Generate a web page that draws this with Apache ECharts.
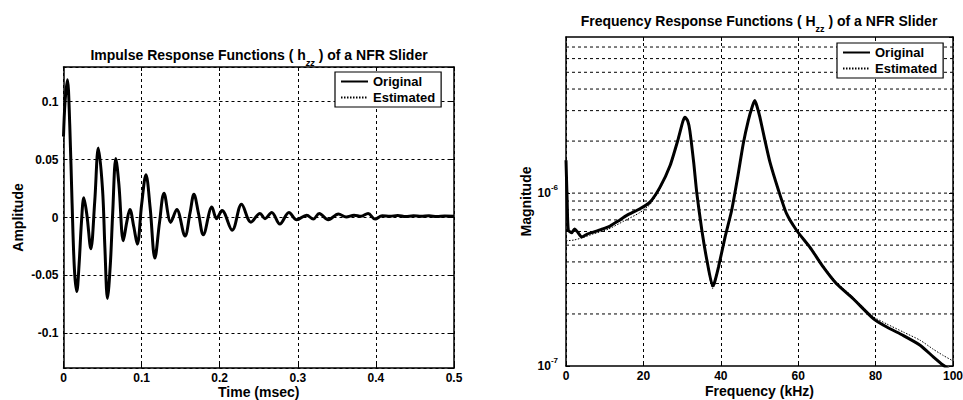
<!DOCTYPE html>
<html><head><meta charset="utf-8">
<script src="https://cdn.jsdelivr.net/npm/echarts@6/dist/echarts.min.js"></script>
<style>html,body{margin:0;padding:0;background:#fff}#c{width:963px;height:400px}</style>
</head><body><div id="c"></div>
<script>
const FONT = '"Liberation Sans", Arial, Helvetica, sans-serif';

// ---- Left: impulse response (time in msec) ----
const timeMs = [0,0.002,0.005,0.008,0.011,0.014,0.017,0.020,0.023,0.026,0.030,0.035,0.040,0.0446,0.050,0.053,0.0563,0.060,0.063,0.067,0.071,0.0766,0.081,0.085,0.090,0.0945,0.100,0.1056,0.111,0.117,0.123,0.1287,0.1373,0.145,0.1556,0.162,0.167,0.173,0.179,0.190,0.196,0.203,0.216,0.228,0.240,0.2516,0.258,0.2666,0.277,0.2887,0.2986,0.3114,0.3198,0.3275,0.339,0.352,0.362,0.372,0.381,0.390,0.399,0.408,0.418,0.428,0.438,0.448,0.458,0.468,0.478,0.488,0.500];
const impulseOriginal = [0.070,0.100,0.119,0.080,0.012,-0.045,-0.064,-0.040,-0.004,0.017,0.002,-0.027,0.014,0.060,0.024,-0.026,-0.070,-0.040,0.004,0.051,0.028,-0.020,-0.004,0.007,-0.008,-0.023,0.011,0.037,0.008,-0.035,-0.004,0.021,-0.004,0.007,-0.016,0.004,0.020,0.003,-0.015,0.009,-0.001,0.006,-0.011,0.0115,-0.004,0.0035,-0.001,0.0043,-0.0057,0.0043,-0.002,0.002,-0.0014,0.0035,-0.002,0.003,0.0005,0.002,0.001,0.0035,-0.0014,0.0015,0.001,0.0018,0.0008,0.0015,0.001,0.0015,0.0008,0.0012,0.001];
const impulseEstimated = [0.060,0.098,0.117,0.079,0.011,-0.046,-0.063,-0.039,-0.005,0.016,0.001,-0.026,0.013,0.059,0.023,-0.027,-0.069,-0.039,0.003,0.050,0.027,-0.019,-0.005,0.006,-0.009,-0.022,0.010,0.036,0.007,-0.034,-0.005,0.020,-0.005,0.006,-0.015,0.003,0.019,0.002,-0.014,0.008,-0.002,0.005,-0.010,0.011,-0.004,0.003,-0.001,0.004,-0.005,0.004,-0.002,0.0015,-0.001,0.003,-0.0015,0.0025,0.0005,0.0015,0.0005,0.003,-0.001,0.001,0.0005,0.001,0.0005,0.001,0.0005,0.0008,0.0005,0.0006,0.0005];
const timeTicks = {min: 0, max: 0.5, step: 0.1};
const amplitudeRange = {min: -0.13, max: 0.13};

// ---- Right: frequency response (kHz) ----
const freqOriginal = [0,0.3,0.6,1.5,2.2,3,4.05,5.5,7.06,9,11.4,13.5,15.7,19.1,21.7,24.3,26.9,29.0,30.2,30.75,31.5,32.0,33.0,33.8,35.1,36.4,37.9,38.3,39.4,41.1,42.8,44.5,45.8,47.1,48.2,48.8,49.4,50.1,51.4,52.7,54.9,57.0,59.6,63.0,66.5,69.9,74.2,79.4,82.9,87.2,91.5,94.9,97.5,100];
const magOriginal = [1.55e-6,9e-7,6.1e-7,5.9e-7,6.2e-7,5.95e-7,5.57e-7,5.8e-7,5.95e-7,6.15e-7,6.45e-7,6.9e-7,7.43e-7,8.12e-7,8.87e-7,1.083e-6,1.445e-6,2.06e-6,2.6e-6,2.75e-6,2.6e-6,2.3e-6,1.5e-6,1.0e-6,6.1e-7,4.1e-7,2.9e-7,3.0e-7,3.73e-7,5.57e-7,7.94e-7,1.29e-6,1.93e-6,2.63e-6,3.2e-6,3.43e-6,3.15e-6,2.75e-6,2.02e-6,1.51e-6,1.04e-6,7.6e-7,6.08e-7,4.87e-7,3.73e-7,2.99e-7,2.45e-7,1.88e-7,1.68e-7,1.5e-7,1.32e-7,1.13e-7,1.01e-7,0.92e-7];
const freqEstimated = [0,2,4,7,11,15,19,21.7,24.3,26.9,29.0,30.2,30.75,31.5,32.0,33.0,33.8,35.1,36.4,37.9,38.3,39.4,41.1,42.8,44.5,45.8,47.1,48.2,48.8,49.4,50.1,51.4,52.7,54.9,57.0,59.6,63.0,66.5,69.9,74.2,79.4,82.9,87.2,91.5,94.9,97.5,100];
const magEstimated = [5.3e-7,5.35e-7,5.5e-7,5.8e-7,6.2e-7,6.9e-7,7.7e-7,8.6e-7,1.06e-6,1.43e-6,2.05e-6,2.58e-6,2.73e-6,2.58e-6,2.28e-6,1.48e-6,9.9e-7,6.0e-7,4.0e-7,2.8e-7,2.9e-7,3.7e-7,5.5e-7,7.9e-7,1.28e-6,1.92e-6,2.62e-6,3.18e-6,3.41e-6,3.13e-6,2.74e-6,2.02e-6,1.52e-6,1.05e-6,7.7e-7,6.15e-7,4.95e-7,3.8e-7,3.05e-7,2.5e-7,1.93e-7,1.75e-7,1.57e-7,1.41e-7,1.25e-7,1.15e-7,1.07e-7];
const freqTicks = {min: 0, max: 100, step: 20};
const magRange = {min: 1e-7, max: 8e-6};
const magGridTicks = [2e-7,3e-7,4e-7,5e-7,6e-7,7e-7,8e-7,9e-7,1e-6,2e-6,3e-6,4e-6,5e-6,6e-6,7e-6];

const legendNames = ['Original', 'Estimated'];

const chart = echarts.init(document.getElementById('c'), null, {renderer: 'svg'});

const tickLbl = {fontFamily: FONT, fontWeight: 'bold', fontSize: 12, color: '#000'};
const nameStyle = {fontFamily: FONT, fontWeight: 'bold', fontSize: 14, color: '#000'};
const dash = [3, 3];
const gridLineStyle = {color: '#000', type: dash, width: 1};
const axLine = {show: true, onZero: false, lineStyle: {color: '#000', width: 1.5}};
const axTick = {show: true, inside: true, length: 4, lineStyle: {color: '#000', width: 1}};

function mirrorX(grid, min, max, interval) {
  return {gridIndex: grid, type: 'value', position: 'top', min, max, interval,
    axisLine: axLine, axisTick: axTick, axisLabel: {show: false}, splitLine: {show: false}};
}
function legendCfg(left, top) {
  return {data: legendNames, orient: 'vertical', left, top, padding: [3, 6, 3, 5],
    itemGap: 3, itemWidth: 27, itemHeight: 14, borderColor: '#000', borderWidth: 1.2,
    backgroundColor: '#fff', selectedMode: false,
    itemStyle: {opacity: 0, borderWidth: 0},
    textStyle: {fontFamily: FONT, fontWeight: 'bold', fontSize: 13, color: '#000'}};
}

const series = [
  {name: 'Original', type: 'line', xAxisIndex: 0, yAxisIndex: 0, z: 4,
   data: timeMs.map((t, i) => [t, impulseOriginal[i]]),
   showSymbol: false, symbol: 'none', smooth: 0.35,
   lineStyle: {color: '#000', width: 3}, itemStyle: {color: '#000'}},
  {name: 'Estimated', type: 'line', xAxisIndex: 0, yAxisIndex: 0, z: 5,
   data: timeMs.map((t, i) => [t, impulseEstimated[i]]),
   showSymbol: false, symbol: 'none', smooth: 0.35,
   lineStyle: {color: '#000', width: 1, type: [1.5, 1.5]}, itemStyle: {color: '#000'}},
  {name: 'Original', type: 'line', xAxisIndex: 2, yAxisIndex: 2, z: 4,
   data: freqOriginal.map((f, i) => [f, magOriginal[i]]),
   showSymbol: false, symbol: 'none', smooth: 0.2,
   lineStyle: {color: '#000', width: 3}, itemStyle: {color: '#000'}},
  {name: 'Estimated', type: 'line', xAxisIndex: 2, yAxisIndex: 2, z: 5,
   data: freqEstimated.map((f, i) => [f, magEstimated[i]]),
   showSymbol: false, symbol: 'none', smooth: 0.2,
   lineStyle: {color: '#000', width: 1, type: [1.5, 1.5]}, itemStyle: {color: '#000'}}
];
// horizontal log-decade grid lines of the magnitude plot
magGridTicks.forEach(v => {
  series.push({name: 'gridline', type: 'line', xAxisIndex: 2, yAxisIndex: 2, z: 1, silent: true,
    data: [[freqTicks.min, v], [freqTicks.max, v]], showSymbol: false, symbol: 'none',
    lineStyle: gridLineStyle, emphasis: {disabled: true}, tooltip: {show: false}});
});

const option = {
  animation: false,
  backgroundColor: '#fff',
  grid: [
    {left: 63.5, top: 67, width: 390.5, height: 301, outerBoundsMode: 'none', containLabel: false},
    {left: 566, top: 37, width: 387, height: 329, outerBoundsMode: 'none', containLabel: false}
  ],
  graphic: [
    {type: 'text', x: 259, y: 55, style: {
      text: '{a|Impulse Response Functions ( h}{s|zz}{a| ) of a NFR Slider}',
      align: 'center', verticalAlign: 'middle', fill: '#000',
      rich: {
        a: {fontFamily: FONT, fontWeight: 'bold', fontSize: 14, lineHeight: 24},
        s: {fontFamily: FONT, fontWeight: 'bold', fontStyle: 'italic', fontSize: 9, lineHeight: 10, verticalAlign: 'bottom'}
      }}},
    {type: 'text', x: 759, y: 21, style: {
      text: '{a|Frequency Response Functions ( H}{s|zz}{a| ) of a NFR Slider}',
      align: 'center', verticalAlign: 'middle', fill: '#000',
      rich: {
        a: {fontFamily: FONT, fontWeight: 'bold', fontSize: 14, lineHeight: 24},
        s: {fontFamily: FONT, fontWeight: 'bold', fontSize: 9, lineHeight: 10, verticalAlign: 'bottom'}
      }}}
  ],
  legend: [legendCfg(335, 72), legendCfg(837, 43)],
  xAxis: [
    {gridIndex: 0, type: 'value', position: 'bottom', min: timeTicks.min, max: timeTicks.max, interval: timeTicks.step,
     axisLine: axLine, axisTick: axTick, axisLabel: Object.assign({margin: 4}, tickLbl),
     splitLine: {show: true, lineStyle: gridLineStyle},
     name: 'Time (msec)', nameLocation: 'middle', nameGap: 24, nameMoveOverlap: false,
     nameTextStyle: Object.assign({verticalAlign: 'middle'}, nameStyle)},
    mirrorX(0, timeTicks.min, timeTicks.max, timeTicks.step),
    {gridIndex: 1, type: 'value', position: 'bottom', min: freqTicks.min, max: freqTicks.max, interval: freqTicks.step,
     axisLine: axLine, axisTick: axTick, axisLabel: Object.assign({margin: 4}, tickLbl),
     splitLine: {show: true, lineStyle: gridLineStyle},
     name: 'Frequency (kHz)', nameLocation: 'middle', nameGap: 25, nameMoveOverlap: false,
     nameTextStyle: Object.assign({verticalAlign: 'middle'}, nameStyle)},
    mirrorX(1, freqTicks.min, freqTicks.max, freqTicks.step)
  ],
  yAxis: [
    {gridIndex: 0, type: 'value', position: 'left', min: amplitudeRange.min, max: amplitudeRange.max,
     splitNumber: 5, minInterval: 0.05, maxInterval: 0.05,
     axisLine: axLine, axisTick: axTick,
     axisLabel: Object.assign({margin: 5, showMinLabel: false, showMaxLabel: false}, tickLbl),
     splitLine: {show: true, lineStyle: gridLineStyle},
     name: 'Amplitude', nameLocation: 'middle', nameGap: 39, nameMoveOverlap: false, nameTextStyle: nameStyle},
    {gridIndex: 0, type: 'value', position: 'right', min: amplitudeRange.min, max: amplitudeRange.max,
     splitNumber: 5, minInterval: 0.05, maxInterval: 0.05,
     axisLine: axLine, axisTick: axTick, axisLabel: {show: false}, splitLine: {show: false}},
    {gridIndex: 1, type: 'log', logBase: 10, position: 'left', min: magRange.min, max: magRange.max,
     axisLine: axLine, axisTick: axTick,
     axisLabel: Object.assign({margin: 8, showMinLabel: true, showMaxLabel: false,
       formatter: function (v) {
         const l = Math.log10(v), e = Math.round(l);
         if (Math.abs(l - e) > 1e-6) return '';
         return '{b|10}{e|' + e + '}';
       },
       rich: {
         b: {fontFamily: FONT, fontWeight: 'bold', fontSize: 12, lineHeight: 20, verticalAlign: 'middle'},
         e: {fontFamily: FONT, fontWeight: 'bold', fontSize: 8, lineHeight: 10, verticalAlign: 'top'}
       }}, tickLbl),
     splitLine: {show: false},
     name: 'Magnitude', nameLocation: 'middle', nameGap: 33, nameMoveOverlap: false, nameTextStyle: nameStyle},
    {gridIndex: 1, type: 'log', logBase: 10, position: 'right', min: magRange.min, max: magRange.max,
     axisLine: axLine, axisTick: axTick, axisLabel: {show: false}, splitLine: {show: false}}
  ],
  series
};
chart.setOption(option);
</script></body></html>
